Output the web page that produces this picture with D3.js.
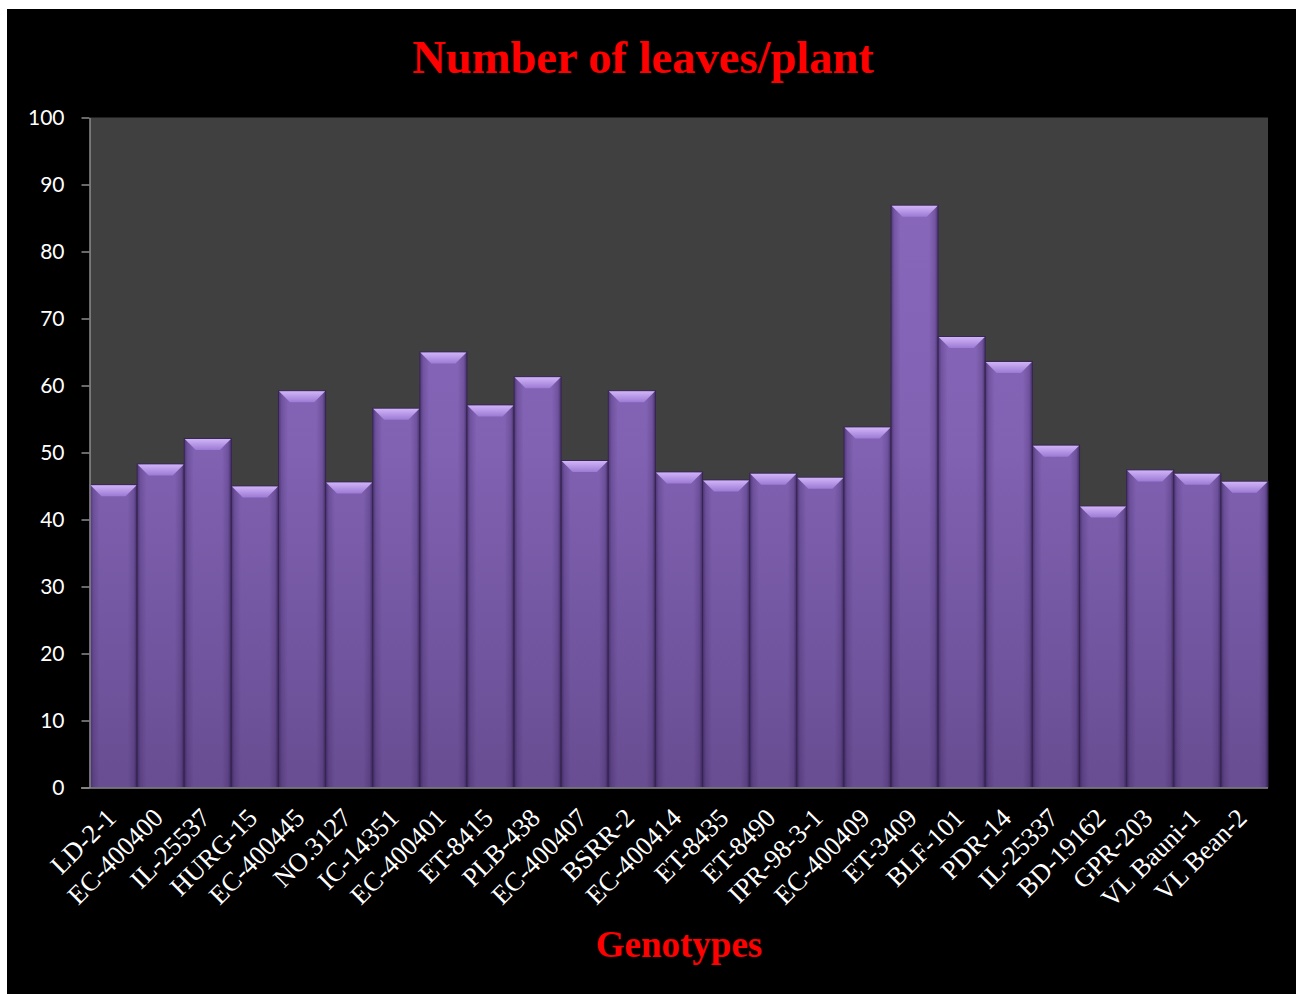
<!DOCTYPE html>
<html>
<head>
<meta charset="utf-8">
<script src="https://cdn.jsdelivr.net/npm/d3@7"></script>
<style>
  html, body { margin: 0; padding: 0; background: #ffffff; }
  svg { display: block; }
</style>
</head>
<body>
<svg id="chart" width="1303" height="994"></svg>
<script>
// Genotypes and mean number of leaves per plant
const genotypes = [
  "LD-2-1", "EC-400400", "IL-25537", "HURG-15", "EC-400445", "NO.3127",
  "IC-14351", "EC-400401", "ET-8415", "PLB-438", "EC-400407", "BSRR-2",
  "EC-400414", "ET-8435", "ET-8490", "IPR-98-3-1", "EC-400409", "ET-3409",
  "BLF-101", "PDR-14", "IL-25337", "BD-19162", "GPR-203", "VL Bauni-1", "VL Bean-2"
];
const leavesPerPlant = [
  45.2, 48.3, 52.1, 45.0, 59.2, 45.6,
  56.6, 65.0, 57.1, 61.3, 48.8, 59.2,
  47.1, 45.9, 46.9, 46.3, 53.8, 86.9,
  67.3, 63.6, 51.1, 42.0, 47.4, 46.9, 45.7
];
const yTicks = [0, 10, 20, 30, 40, 50, 60, 70, 80, 90, 100];

const chartTitle = "Number of leaves/plant";
const xTitle = "Genotypes";

const svg = d3.select("#chart");
const W = 1303, H = 994;
const plot = { left: 90, right: 1268, top: 117.5, bottom: 787.5 };

// outer black panel
svg.append("rect").attr("x", 7).attr("y", 9).attr("width", W - 14).attr("height", H - 9).attr("fill", "#000");

// plot background
svg.append("rect")
  .attr("x", plot.left).attr("y", plot.top)
  .attr("width", plot.right - plot.left).attr("height", plot.bottom - plot.top)
  .attr("fill", "#404040");

const x = d3.scaleBand().domain(genotypes).range([plot.left, plot.right]).padding(0);
const y = d3.scaleLinear().domain([0, 100]).range([plot.bottom, plot.top]);

const defs = svg.append("defs");

// body: lighter towards the top of the plot
const bodyGrad = defs.append("linearGradient").attr("id", "barBody")
  .attr("gradientUnits", "userSpaceOnUse")
  .attr("x1", 0).attr("x2", 0).attr("y1", plot.top).attr("y2", plot.bottom);
[[0, "#8a69bd"], [0.5, "#8061b2"], [1, "#684d92"]].forEach(([o, c]) =>
  bodyGrad.append("stop").attr("offset", o).attr("stop-color", c));

// side shading of each bar
const sideGrad = defs.append("linearGradient").attr("id", "barSides")
  .attr("x1", 0).attr("x2", 1).attr("y1", 0).attr("y2", 0);
[[0, "#1e0a3c", 0.5], [0.07, "#1e0a3c", 0.18], [0.2, "#1e0a3c", 0],
 [0.8, "#1e0a3c", 0], [0.93, "#1e0a3c", 0.18], [1, "#140528", 0.55]].forEach(([o, c, a]) =>
  sideGrad.append("stop").attr("offset", o).attr("stop-color", c).attr("stop-opacity", a));

// top bevel
const bevelGrad = defs.append("linearGradient").attr("id", "barBevel")
  .attr("x1", 0).attr("x2", 0).attr("y1", 0).attr("y2", 1);
[[0, "#d0b4f8"], [1, "#9c7ad4"]].forEach(([o, c]) =>
  bevelGrad.append("stop").attr("offset", o).attr("stop-color", c));

const bars = svg.append("g").selectAll("g")
  .data(genotypes.map((g, i) => ({ g, v: leavesPerPlant[i] })))
  .join("g");

bars.append("rect")
  .attr("x", d => x(d.g)).attr("y", d => y(d.v))
  .attr("width", x.bandwidth()).attr("height", d => y(0) - y(d.v))
  .attr("fill", "url(#barBody)");

bars.append("rect")
  .attr("x", d => x(d.g)).attr("y", d => y(d.v))
  .attr("width", x.bandwidth()).attr("height", d => y(0) - y(d.v))
  .attr("fill", "url(#barSides)")
  .attr("stroke", "#35264f").attr("stroke-width", 1);

const bev = 11;
bars.append("path")
  .attr("d", d => {
    const x0 = x(d.g) + 0.5, x1 = x(d.g) + x.bandwidth() - 0.5, t = y(d.v) + 0.5;
    return `M${x0},${t}L${x1},${t}L${x1 - bev},${t + bev}L${x0 + bev},${t + bev}Z`;
  })
  .attr("fill", "url(#barBevel)");

// y axis
const yAxis = svg.append("g")
  .attr("transform", `translate(${plot.left - 0.5},0)`)
  .call(d3.axisLeft(y).tickValues(yTicks).tickSize(8).tickPadding(17).tickSizeOuter(0));
yAxis.select(".domain").attr("stroke", "#8c8c8c").attr("stroke-width", 1.5);
yAxis.selectAll(".tick line").attr("stroke", "#8c8c8c").attr("stroke-width", 1.5);
yAxis.selectAll(".tick text")
  .attr("fill", "#ffffff")
  .style("font-family", "Lato, 'Open Sans', sans-serif")
  .style("font-size", "21px");

// x axis
const xAxis = svg.append("g")
  .attr("transform", `translate(0,${plot.bottom})`)
  .call(d3.axisBottom(x).tickSize(0).tickSizeOuter(0).tickPadding(0));
xAxis.select(".domain").attr("stroke", "#8c8c8c").attr("stroke-width", 1.5)
  .attr("d", `M${plot.left - 9},0.5H${plot.right}`);
xAxis.selectAll(".tick text")
  .attr("fill", "#ffffff")
  .attr("text-anchor", "end")
  .attr("dy", 0).attr("y", 0)
  .attr("transform", "translate(4,32) rotate(-45)")
  .style("font-family", "'Liberation Serif', 'Times New Roman', serif")
  .style("font-size", "26.5px");

// titles
svg.append("text")
  .attr("x", 643).attr("y", 73)
  .attr("text-anchor", "middle")
  .attr("fill", "#ff0000")
  .style("font-family", "'Liberation Serif', 'Times New Roman', serif")
  .style("font-weight", "bold")
  .style("font-size", "46.5px")
  .text(chartTitle);

svg.append("text")
  .attr("x", 679).attr("y", 957)
  .attr("text-anchor", "middle")
  .attr("fill", "#ff0000")
  .style("font-family", "'Liberation Serif', 'Times New Roman', serif")
  .style("font-weight", "bold")
  .style("font-size", "37px")
  .text(xTitle);
</script>
</body>
</html>
